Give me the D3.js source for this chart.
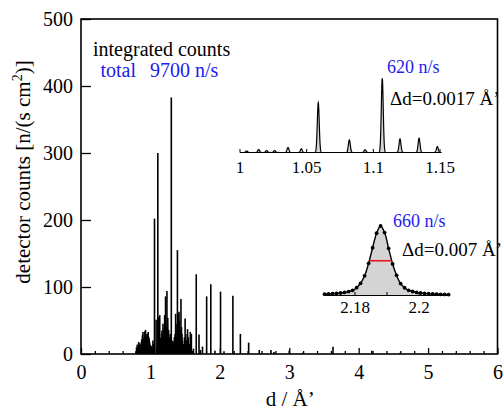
<!DOCTYPE html>
<html><head><meta charset="utf-8">
<script src="https://cdn.jsdelivr.net/npm/d3@7"></script>
</head><body style="margin:0;background:#fff">
<svg id="chart" width="503" height="411" font-family="Liberation Serif" style="display:block"></svg>
<script>
// Bragg peak positions (d in Å) and peak heights (n/(s cm²))
const peakD = [0.790,0.800,0.805,0.810,0.820,0.830,0.842,0.852,0.862,0.870,0.875,0.885,0.893,0.902,0.907,0.912,0.920,0.925,0.930,0.935,0.940,0.948,0.953,0.958,0.963,0.968,0.973,0.978,0.983,0.988,0.998,
  1.005,1.014,1.020,1.026,1.036,1.046,1.0587,1.082,1.0938,1.1067,1.120,1.1343,1.148,
  1.154,1.160,1.166,1.172,1.176,1.181,1.188,1.195,1.200,1.205,1.212,1.218,1.225,1.232,1.238,1.244,1.250,1.256,1.262,1.268,1.272,1.278,1.285,1.290,1.301,
  1.315,1.320,1.330,1.338,1.345,1.355,1.363,1.370,1.380,1.389,1.395,1.400,1.405,1.412,1.418,1.425,1.432,1.440,1.448,1.455,1.462,1.470,1.480,1.490,1.500,1.510,1.520,1.528,1.535,1.545,1.555,1.565,1.574,1.580,1.590,
  1.620,1.660,1.700,1.720,1.750,1.810,1.870,1.930,2.010,2.060,
  2.188,2.296,2.415,2.568,2.736,2.780,3.000,3.190,3.630,4.190,4.600];
const peakH = [4,10,8,14,12,18,16,9,14,18,22,28,33,20,15,24,34,28,36,30,27,22,25,30,28,33,20,25,22,18,14,
  6,12,8,8,20,15,202,51,11,300,55,58,24,
  20,30,35,26,22,45,28,35,40,58,50,86,40,30,94,45,54,30,36,25,22,15,30,20,383,
  10,20,15,18,25,30,60,45,25,155,40,60,35,63,50,35,25,82,40,30,20,15,15,25,53,30,20,20,37,25,12,15,33,20,30,
  8,119,29,6,11,86,104,5,93,4,
  87,30,17,6,6,3,5,2,11,5,2];

// measured profile of the peak near 2.19 Å
const profD = [2.1705,2.17175,2.173,2.17425,2.1755,2.17675,2.178,2.17925,2.1805,2.18175,2.183,2.18425,2.1855,2.18675,2.188,
  2.18925,2.1905,2.19175,2.193,2.19425,2.1955,2.19675,2.198,2.19925,2.2005,2.20175,2.203,2.20425,2.2055,2.20675,2.208,2.20925];
const profC = [1.7,1.9,2.3,2.7,3.1,3.8,4.9,6.5,9.8,15.3,24.6,40.3,59.8,78.0,87,
  78.8,59.0,39.5,25.2,14.9,9.7,6.5,5.0,3.8,3.1,2.6,2.2,1.9,1.7,1.5,1.3,1.1];

const xTicks = [0,1,2,3,4,5,6];
const xMinor = [0.2,0.4,0.6,0.8,1.2,1.4,1.6,1.8,2.2,2.4,2.6,2.8,3.2,3.4,3.6,3.8,4.2,4.4,4.6,4.8,5.2,5.4,5.6,5.8];
const yTicks = [0,100,200,300,400,500];
const in1Ticks = [1,1.05,1.1,1.15];
const in1Labels = ["1","1.05","1.1","1.15"];
const in2Ticks = [2.18,2.19,2.2];
const in2Labels = {"2.18":"2.18","2.2":"2.2"};

const fwhm1 = 0.0017;   // Δd of the 1.1 Å peak
const fwhm2 = 0.007;    // Δd of the 2.19 Å peak
const totalText = "9700 n/s", peak1Text = "620 n/s", peak2Text = "660 n/s";

const FONT = "Liberation Serif";
const svg = d3.select("#chart");
const blue = "#1c1cf0";

function label(x, y, size, txt, color) {
  return svg.append("text").attr("x",x).attr("y",y).attr("font-family",FONT)
    .attr("font-size",size).attr("fill",color || "#000").text(txt);
}

// ---------- main panel ----------
const L = 81, R = 497.5, T = 19, B = 354;
const x = d3.scaleLinear().domain([0,6]).range([L,R]);
const y = d3.scaleLinear().domain([0,500]).range([B,T]);

svg.append("g").selectAll("line").data(peakD.map((d,i)=>({d,h:peakH[i]}))).join("line")
  .attr("x1",p=>x(p.d)).attr("x2",p=>x(p.d))
  .attr("y1",y(0)).attr("y2",p=>y(p.h))
  .attr("stroke","#000").attr("stroke-width",1.6);

const ax = svg.append("g").attr("transform",`translate(0,${B})`)
  .call(d3.axisBottom(x).tickValues(xTicks).tickSize(-6).tickSizeOuter(0).tickPadding(10.5).tickFormat(d3.format("d")));
const axm = svg.append("g").attr("transform",`translate(0,${B})`)
  .call(d3.axisBottom(x).tickValues(xMinor).tickSize(-3).tickSizeOuter(0).tickFormat(""));
const ay = svg.append("g").attr("transform",`translate(${L},0)`)
  .call(d3.axisLeft(y).tickValues(yTicks).tickSize(-10).tickSizeOuter(0).tickPadding(8));
[ax,axm,ay].forEach(g=>{
  g.attr("font-family",FONT).attr("font-size",20);
  g.select(".domain").remove();
  g.selectAll("line").attr("stroke","#000").attr("stroke-width",1.3);
  g.selectAll("text").attr("font-family",FONT).attr("font-size",20).attr("fill","#000");
});

svg.append("rect").attr("x",L).attr("y",T).attr("width",R-L).attr("height",B-T)
  .attr("fill","none").attr("stroke","#000").attr("stroke-width",1.6);

// axis titles
label((L+R)/2+1, 406, 21, "d / Å’").attr("text-anchor","middle");
const yt = svg.append("text").attr("transform","translate(30,172) rotate(-90)")
  .attr("text-anchor","middle").attr("font-family",FONT).attr("font-size",21);
yt.append("tspan").text("detector counts  [n/(s cm");
yt.append("tspan").attr("dy",-8).attr("font-size",14).text("2");
yt.append("tspan").attr("dy",8).text(")]");

// legend text
label(93, 56, 20, "integrated counts");
label(100.5, 77, 20, "total", blue);
label(150, 77, 20, totalText, blue);

// ---------- inset 1: 1.0 – 1.15 Å ----------
const x1 = d3.scaleLinear().domain([1,1.15]).range([240,440]);
const y1 = d3.scaleLinear().domain([0,300]).range([152.5,78.3]);
const sig1 = fwhm1/2.3548;
const pk1 = peakD.map((d,i)=>({d,h:peakH[i]})).filter(p=>p.d>=0.995&&p.d<=1.151);
const grid1 = d3.range(1.0,1.1512,0.0001);
const prof1 = grid1.map(d=>({d,c:d3.sum(pk1,p=>p.h*Math.exp(-0.5*((d-p.d)/sig1)**2))}));
svg.append("path").datum(prof1)
  .attr("d",d3.area().x(p=>x1(p.d)).y0(y1(0)).y1(p=>y1(p.c)))
  .attr("fill","#d4d4d4");
svg.append("path").datum(prof1)
  .attr("d",d3.line().x(p=>x1(p.d)).y(p=>y1(p.c)))
  .attr("fill","none").attr("stroke","#000").attr("stroke-width",1.2);
svg.append("line").attr("x1",x1(1)).attr("x2",x1(1.151)).attr("y1",y1(0)).attr("y2",y1(0))
  .attr("stroke","#000").attr("stroke-width",1.2);
svg.append("g").selectAll("line").data(in1Ticks).join("line")
  .attr("x1",d=>x1(d)).attr("x2",d=>x1(d)).attr("y1",y1(0)).attr("y2",y1(0)-3.5)
  .attr("stroke","#000").attr("stroke-width",1);
svg.append("g").selectAll("text").data(in1Ticks).join("text")
  .attr("x",d=>x1(d)).attr("y",173).attr("text-anchor","middle")
  .attr("font-family",FONT).attr("font-size",17)
  .text((d,i)=>in1Labels[i]);
label(387, 73, 18, peak1Text, blue);
label(390, 105, 19, `Δd=${fwhm1} Å’`);

// ---------- inset 2: peak at 2.19 Å ----------
const x2 = d3.scaleLinear().domain([2.18,2.2]).range([355,419]);
const y2 = d3.scaleLinear().domain([0,87]).range([295.5,226]);
const prof2 = profD.map((d,i)=>({d,c:profC[i]}));
svg.append("path").datum(prof2)
  .attr("d",d3.area().x(p=>x2(p.d)).y0(y2(0)).y1(p=>y2(p.c)).curve(d3.curveCatmullRom))
  .attr("fill","#d4d4d4");
svg.append("line").attr("x1",x2(2.1703)).attr("x2",x2(2.2097)).attr("y1",y2(0)).attr("y2",y2(0))
  .attr("stroke","#000").attr("stroke-width",1.2);
svg.append("g").selectAll("line").data(in2Ticks).join("line")
  .attr("x1",d=>x2(d)).attr("x2",d=>x2(d)).attr("y1",y2(0)).attr("y2",y2(0)-3.5)
  .attr("stroke","#000").attr("stroke-width",1);
svg.append("path").datum(prof2)
  .attr("d",d3.line().x(p=>x2(p.d)).y(p=>y2(p.c)).curve(d3.curveCatmullRom))
  .attr("fill","none").attr("stroke","#000").attr("stroke-width",1.4);
svg.append("g").selectAll("circle").data(prof2).join("circle")
  .attr("cx",p=>x2(p.d)).attr("cy",p=>y2(p.c)).attr("r",1.9).attr("fill","#000");
const peak2 = prof2[d3.maxIndex(prof2,p=>p.c)];
svg.append("line")
  .attr("x1",x2(peak2.d-fwhm2/2)).attr("x2",x2(peak2.d+fwhm2/2))
  .attr("y1",y2(peak2.c/2)).attr("y2",y2(peak2.c/2))
  .attr("stroke","#e8141c").attr("stroke-width",1.6);
svg.append("g").selectAll("text").data(in2Ticks.filter(d=>in2Labels[d])).join("text")
  .attr("x",d=>x2(d)).attr("y",313).attr("text-anchor","middle")
  .attr("font-family",FONT).attr("font-size",17)
  .text(d=>in2Labels[d]);
label(393, 227, 18, peak2Text, blue);
label(402, 256, 19, `Δd=${fwhm2} Å’`);
</script>
</body></html>
